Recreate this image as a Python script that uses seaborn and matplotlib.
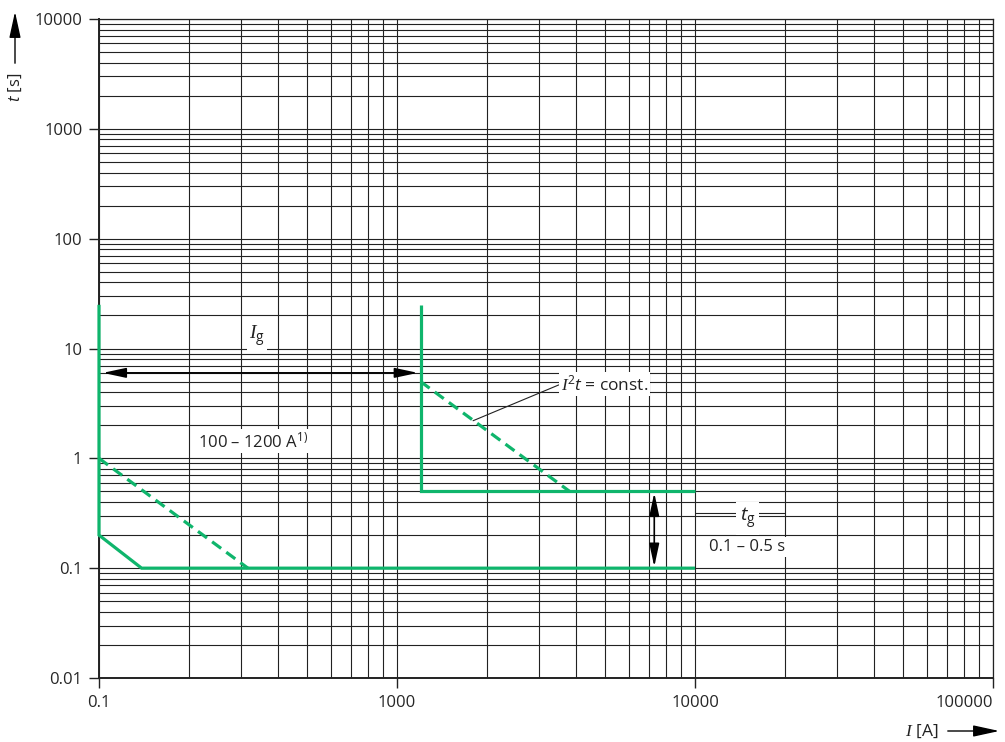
import numpy as np
import pandas as pd
import matplotlib
matplotlib.use("Agg")
import matplotlib.pyplot as plt
import matplotlib.ticker as mticker
import seaborn as sns

# Kennlinien (Strom I in A, Zeit t in s)
low_solid_I = [100, 100, 139, 10000]
low_solid_t = [25, 0.2, 0.1, 0.1]
low_dash_I = [100, 316]
low_dash_t = [1.0, 0.1]

high_solid_I = [1200, 1200, 10000]
high_solid_t = [25, 0.5, 0.5]
high_dash_I = [1200, 3795]
high_dash_t = [5.0, 0.5]

x_ticks = [100, 1000, 10000, 100000]
x_labels = ["0.1", "1000", "10000", "100000"]
y_ticks = [0.01, 0.1, 1, 10, 100, 1000, 10000]
y_labels = ["0.01", "0.1", "1", "10", "100", "1000", "10000"]

green = "#0fb56c"

sns.set_theme(style="white")
plt.rcParams["font.family"] = ["Open Sans", "DejaVu Sans"]
plt.rcParams["mathtext.fontset"] = "custom"
plt.rcParams["mathtext.rm"] = "Open Sans"
plt.rcParams["mathtext.it"] = "Open Sans:italic"
plt.rcParams["mathtext.cal"] = "Liberation Serif:italic"

fig = plt.figure(figsize=(10.05, 7.42), dpi=100)
ax = fig.add_axes([99 / 1005, 64 / 742, 894 / 1005, 659 / 742])
ax.set_xscale("log")
ax.set_yscale("log")
ax.set_xlim(100, 100000)
ax.set_ylim(0.01, 10000)

# Raster
ax.xaxis.set_minor_locator(mticker.LogLocator(base=10, subs=np.arange(2, 10)))
ax.yaxis.set_minor_locator(mticker.LogLocator(base=10, subs=np.arange(2, 10)))
ax.grid(True, which="both", color="#222", lw=0.8)
ax.set_axisbelow(True)
ax.tick_params(which="minor", length=0)
ax.tick_params(which="major", length=7, width=1, color="#222", labelsize=12,
               pad=5, direction="out", left=True, bottom=True)
ax.xaxis.set_major_locator(mticker.FixedLocator(x_ticks))
ax.xaxis.set_major_formatter(mticker.FixedFormatter(x_labels))
ax.yaxis.set_major_locator(mticker.FixedLocator(y_ticks))
ax.yaxis.set_major_formatter(mticker.FixedFormatter(y_labels))
ax.get_xticklabels()[-1].set_horizontalalignment("right")
for s in ax.spines.values():
    s.set_color("#222")
    s.set_linewidth(0.9)
ax.spines["left"].set_linewidth(1.4)
ax.spines["bottom"].set_linewidth(1.4)

# Kurven
for xs, ys, ls in [(low_solid_I, low_solid_t, "-"), (low_dash_I, low_dash_t, (0, (3.5, 2))),
                   (high_solid_I, high_solid_t, "-"), (high_dash_I, high_dash_t, (0, (3.5, 2)))]:
    sns.lineplot(x=xs, y=ys, sort=False, estimator=None, ax=ax, color=green,
                 lw=2.3, linestyle=ls, solid_capstyle="butt", solid_joinstyle="miter",
                 clip_on=False, zorder=3)

# Pfeile und Beschriftungen
arrow = dict(arrowstyle="<|-|>,head_length=1.4,head_width=0.3", color="black",
             lw=1.2, shrinkA=0, shrinkB=0, mutation_scale=10)
ax.annotate("", xy=(103, 6), xytext=(1175, 6), arrowprops=arrow)
ax.annotate("", xy=(7300, 0.485), xytext=(7300, 0.103), arrowprops=arrow)

white = dict(facecolor="white", edgecolor="none", pad=1.5)
ax.text(339, 12.9, r"$\mathcal{I}_{\mathrm{g}}$", fontsize=14, ha="center", va="center",
        color="#222", bbox=white)
ax.text(329, 1.43, r"100 – 1200 A$^{\mathrm{1)}}$", fontsize=12, ha="center",
        va="center", color="#222", bbox=white)
ax.annotate(r"$\mathcal{I}^{\mathrm{2}}t$ = const.", xy=(1800, 2.2), xytext=(3550, 4.75),
            fontsize=12.5, ha="left", va="center", color="#222", bbox=white,
            arrowprops=dict(arrowstyle="-", lw=0.8, color="#222", shrinkA=0,
                            shrinkB=0, relpos=(0, 0.5)))
sns.lineplot(x=[10000, 20000], y=[0.32, 0.32], ax=ax, color="#222", lw=0.8,
             estimator=None, sort=False)
ax.text(15000, 0.285, r"$t_{\mathrm{g}}$", fontsize=14, ha="center", va="center",
        color="#222", bbox=dict(facecolor="white", edgecolor="none", pad=3))
ax.text(15000, 0.155, "0.1 – 0.5 s", fontsize=12, ha="center", va="center",
        color="#222", bbox=white)

# Achsentitel mit Pfeilen
fig.text(15 / 1005, 1 - 87 / 742, r"$t$ [s]", rotation=90, fontsize=12,
         ha="center", va="center", color="#222")
fig.add_artist(matplotlib.patches.FancyArrowPatch(
    (15 / 1005, 1 - 66 / 742), (15 / 1005, 1 - 9 / 742), transform=fig.transFigure,
    arrowstyle="-|>,head_length=1.6,head_width=0.35", mutation_scale=10,
    color="black", lw=1.0))
fig.text(938 / 1005, 1 - 731 / 742, r"$\mathcal{I}$ [A]", fontsize=12.5,
         ha="right", va="center", color="#222")
fig.add_artist(matplotlib.patches.FancyArrowPatch(
    (945 / 1005, 1 - 731 / 742), (1002 / 1005, 1 - 731 / 742), transform=fig.transFigure,
    arrowstyle="-|>,head_length=1.6,head_width=0.35", mutation_scale=10,
    color="black", lw=1.0))

ax.set_xlabel("")
ax.set_ylabel("")
fig.savefig("out.png", dpi=100)
